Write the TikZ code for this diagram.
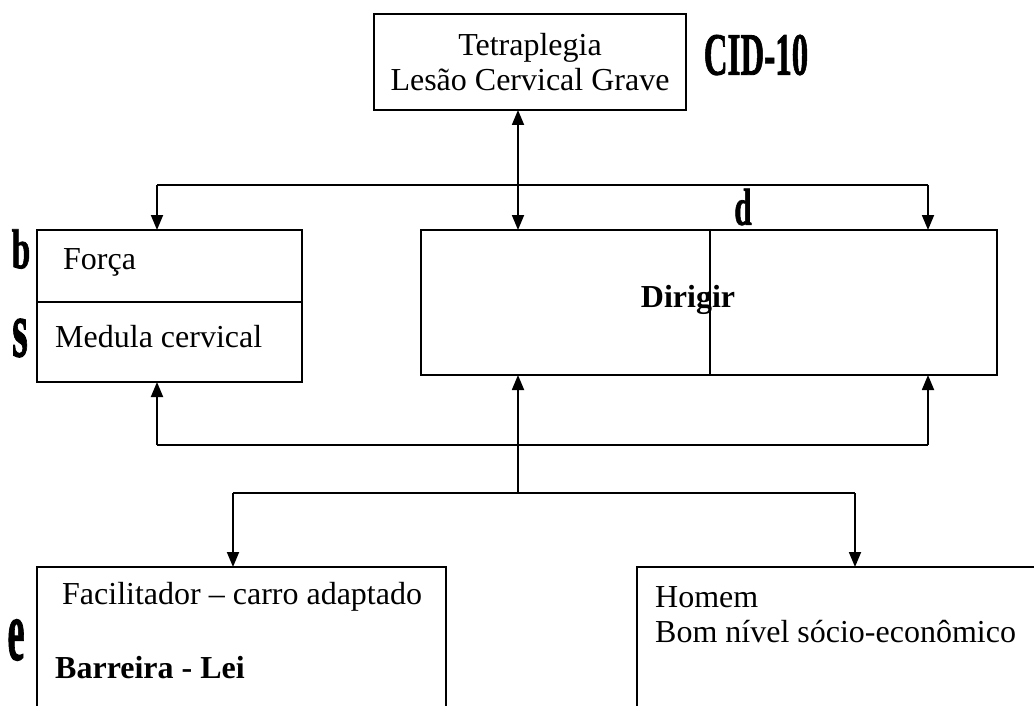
\documentclass[tikz,border=0pt]{standalone}
\usepackage{fontspec}
\setmainfont{Liberation Serif}
\newfontfamily\icffont{Liberation Serif Bold}[FakeBold=1.5]
\usetikzlibrary{arrows.meta}
\begin{document}
\begin{tikzpicture}[x=1pt,y=-1pt]
\tikzset{
 box/.style={draw, line width=1.8pt, inner sep=0pt, outer sep=0pt},
 lbl/.style={font=\fontsize{32}{35}\selectfont, inner sep=0pt},
 icf/.style={inner sep=0pt, font=\icffont},
 arr/.style={-{Triangle[length=15pt,width=12pt]}, line width=1.8pt},
 dbl/.style={{Triangle[length=15pt,width=12pt]}-{Triangle[length=15pt,width=12pt]}, line width=1.8pt},
 link/.style={line width=1.8pt}
}
\useasboundingbox (0,0) rectangle (1034,706);
\clip (0,0) rectangle (1034,706);

% boxes
\node[box, lbl, align=center, minimum width=312pt, minimum height=96pt] (top) at (530,62) {Tetraplegia\\Lesão Cervical Grave};
\node[box, minimum width=265pt, minimum height=72pt] (fo) at (169.5,266) {};
\node[box, minimum width=265pt, minimum height=80pt] (me) at (169.5,342) {};
\node[box, minimum width=289pt, minimum height=145pt] (dl) at (565.5,302.5) {};
\node[box, minimum width=287pt, minimum height=145pt] (dr) at (853.5,302.5) {};
\node[box, minimum width=409pt, minimum height=193pt] (fac) at (241.5,663.5) {};
\node[box, minimum width=433pt, minimum height=193pt] (hom) at (853.5,663.5) {};

% texts
\node[lbl, anchor=west] (tf) at (63,262) {Força};
\node[lbl, anchor=west] (tm) at (55,337) {Medula cervical};
\node[lbl] (dir) at (688,300) {\bfseries Dirigir};
\node[lbl, anchor=west] (tfa) at (62,597) {Facilitador – carro adaptado};
\node[lbl, anchor=west] (tba) at (55,668) {\bfseries Barreira - Lei};
\node[lbl, anchor=west] (tho) at (655,597) {Homem};
\node[lbl, anchor=west] (tbo) at (655,632) {Bom nível sócio-econômico};

% ICF letters
\node[icf] (cid) at (756,55) {\fontsize{60}{60}\selectfont\scalebox{0.55}[1]{CID-10}};
\node[icf] (lb) at (21,249) {\fontsize{56}{56}\selectfont\scalebox{0.6}[1]{b}};
\node[icf] (ls) at (20,338) {\fontsize{80}{80}\selectfont\scalebox{0.5}[1]{s}};
\node[icf] (ld) at (743,207) {\fontsize{52}{52}\selectfont\scalebox{0.6}[1]{d}};
\node[icf] (le) at (16,640) {\fontsize{86}{86}\selectfont\scalebox{0.45}[1]{e}};

% junctions
\coordinate (j) at (518,185);
\coordinate (jl) at (157,185);
\coordinate (jr) at (928,185);
\coordinate (k) at (518,445);
\coordinate (kl) at (157,445);
\coordinate (kr) at (928,445);
\coordinate (m) at (518,493);
\coordinate (ml) at (233,493);
\coordinate (mr) at (855,493);

% upper connectors
\draw[dbl] (top.south -| j) -- (j |- dl.north);
\draw[link] (jl) -- (jr);
\draw[arr] (jl) -- (jl |- fo.north);
\draw[arr] (jr) -- (jr |- dr.north);

% lower connectors
\draw[link] (kl) -- (kr);
\draw[arr] (kl) -- (kl |- me.south);
\draw[arr] (kr) -- (kr |- dr.south);
\draw[arr] (m) -- (m |- dl.south);
\draw[link] (ml) -- (mr);
\draw[arr] (ml) -- (ml |- fac.north);
\draw[arr] (mr) -- (mr |- hom.north);
\end{tikzpicture}
\end{document}
